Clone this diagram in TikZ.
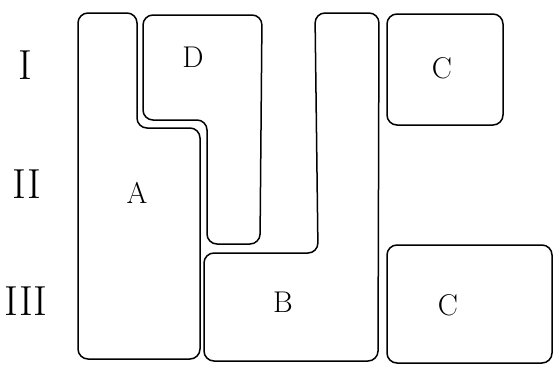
\documentclass[tikz,border=0pt]{standalone}
\usepackage{tikz}
\usetikzlibrary{positioning}

\begin{document}
\begin{tikzpicture}[x=1pt, y=-1pt,
        block/.style={draw=black, line width=1.5pt, rounded corners=10pt, line join=round},
        numeral/.style={font=\fontsize{42}{42}\selectfont, inner sep=0pt},
        letter/.style={font=\fontsize{30}{30}\selectfont, inner sep=0pt}
    ]
        \useasboundingbox (0,0) rectangle (553,367);
        % rows
        \node[numeral] (ROWI) at (25,65) {I};
        \node[numeral] (ROWII) at (27,184) {II};
        \node[numeral] (ROWIII) at (26,301) {III};
        % blocks
        \draw[block] (78,13) -- (137,13) -- (137,128) -- (200,128) -- (200,359) -- (78,359) -- cycle;
        \draw[block] (143,15) -- (262,15) -- (260,244) -- (207,244) -- (207,120) -- (143,120) -- cycle;
        \draw[block] (315,13) -- (379,13) -- (378,361) -- (204,361) -- (204,253) -- (318,253) -- cycle;
        \draw[block] (387,14) rectangle (503,125);
        \draw[block] (387,245) rectangle (552,363);
        % labels
        \node[letter] (LA) at (137,193) {A};
        \node[letter] (LD) at (193,57) {D};
        \node[letter] (LB) at (283,302) {B};
        \node[letter] (LCI) at (442,68) {C};
        \node[letter] (LCIII) at (448,305) {C};
    \end{tikzpicture}
\end{document}
